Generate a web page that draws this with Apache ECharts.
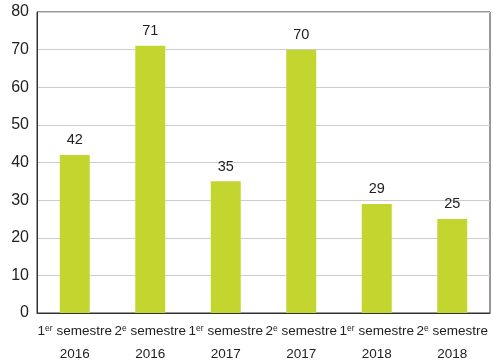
<!DOCTYPE html>
<html><head><meta charset="utf-8">
<script src="https://cdn.jsdelivr.net/npm/echarts@6/dist/echarts.min.js"></script>
<style>html,body{margin:0;padding:0;background:#fff}#c{width:493px;height:364px}</style>
</head><body><div id="c"></div>
<script>
var ordinals = ['1', '2', '1', '2', '1', '2'];
var suffixes = ['er', 'e', 'er', 'e', 'er', 'e'];
var years = ['2016', '2016', '2017', '2017', '2018', '2018'];
var categories = ['1er semestre 2016', '2e semestre 2016', '1er semestre 2017', '2e semestre 2017', '1er semestre 2018', '2e semestre 2018'];
var values = [42, 71, 35, 70, 29, 25];
var yTicks = [0, 10, 20, 30, 40, 50, 60, 70, 80];

var font = '"Liberation Sans", Arial, sans-serif';
var chart = echarts.init(document.getElementById('c'));
chart.setOption({
  animation: false,
  grid: {left: 37, right: 3, top: 12, bottom: 51, show: true, borderColor: '#333', borderWidth: 1, outerBoundsMode: 'none', containLabel: false},
  xAxis: {
    type: 'category', data: categories,
    axisLine: {lineStyle: {color: '#333', width: 1}},
    axisTick: {show: false},
    axisLabel: {
      interval: 0, margin: 7, color: '#222', fontFamily: font, fontSize: 13.5, lineHeight: 23,
      formatter: function (v, i) {
        return '{n|' + ordinals[i] + '}{s|' + suffixes[i] + '}{n| semestre}\n{n|' + years[i] + '}';
      },
      rich: {
        n: {fontFamily: font, fontSize: 13.5, color: '#222', lineHeight: 23},
        s: {fontFamily: font, fontSize: 8.5, color: '#222', verticalAlign: 'top', lineHeight: 23, padding: [4, 0, 0, 0]}
      }
    }
  },
  yAxis: {
    type: 'value', min: yTicks[0], max: yTicks[yTicks.length - 1], interval: 10,
    axisLine: {show: true, lineStyle: {color: '#333', width: 1}},
    axisTick: {show: false},
    axisLabel: {color: '#222', fontFamily: font, fontSize: 16, margin: 8},
    splitLine: {lineStyle: {color: '#ccc', width: 1}}
  },
  series: [{
    type: 'bar', data: values, barWidth: 30,
    itemStyle: {color: '#c3d630'},
    label: {show: true, position: 'top', color: '#222', fontFamily: font, fontSize: 14.5, distance: 7}
  }]
});
</script></body></html>
